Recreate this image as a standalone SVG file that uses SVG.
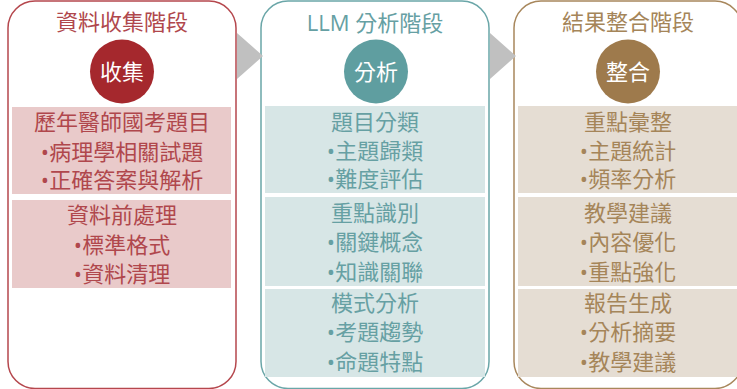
<svg xmlns="http://www.w3.org/2000/svg" width="737" height="389" viewBox="0 0 737 389">
<style>
text{font-family:"Open Sans","Noto Sans CJK TC","Noto Sans CJK SC",sans-serif;font-size:22px;text-anchor:middle}
.panel{fill:#ffffff;stroke-width:1.5}
.p1{stroke:#b5474d}.p2{stroke:#6aa6a8}.p3{stroke:#a8875c}
.t1{fill:#b0474c}.t2{fill:#66a0a3}.t3{fill:#a58559}
.b1{fill:#e9caca}.b2{fill:#d7e6e6}.b3{fill:#e5ddd3}
.ct{fill:#ffffff}
.arrow{fill:#c0c0c0}
</style>
<rect width="737" height="389" fill="#ffffff"/>
<g id="stage-collect">
<rect class="panel p1" x="8" y="1" width="228" height="387.5" rx="27"/>
<text class="t1" x="122" y="30">資料收集階段</text>
<circle cx="122" cy="71.5" r="32" fill="#a5282d"/>
<text class="ct" x="122" y="79.5">收集</text>
<rect class="b1" x="12" y="107" width="219" height="87"/>
<text class="t1" x="122" y="130">歷年醫師國考題目</text>
<text class="t1" x="122" y="160">•病理學相關試題</text>
<text class="t1" x="122" y="188">•正確答案與解析</text>
<rect class="b1" x="12" y="200" width="219" height="88"/>
<text class="t1" x="122" y="223">資料前處理</text>
<text class="t1" x="122" y="253">•標準格式</text>
<text class="t1" x="122" y="282">•資料清理</text>
</g>
<g id="stage-llm">
<rect class="panel p2" x="261" y="1" width="228" height="387.5" rx="27"/>
<text class="t2" x="375" y="30.5">LLM 分析階段</text>
<circle cx="376" cy="71.5" r="32" fill="#5f9ea0"/>
<text class="ct" x="376" y="79.5">分析</text>
<rect class="b2" x="265" y="106" width="220" height="87"/>
<text class="t2" x="375" y="129.5">題目分類</text>
<text class="t2" x="375" y="159">•主題歸類</text>
<text class="t2" x="375" y="187">•難度評估</text>
<rect class="b2" x="265" y="197" width="220" height="89"/>
<text class="t2" x="375" y="220.5">重點識別</text>
<text class="t2" x="375" y="250">•關鍵概念</text>
<text class="t2" x="375" y="279.5">•知識關聯</text>
<rect class="b2" x="265" y="289" width="220" height="88"/>
<text class="t2" x="375" y="311">模式分析</text>
<text class="t2" x="375" y="340">•考題趨勢</text>
<text class="t2" x="375" y="370">•命題特點</text>
</g>
<g id="stage-integrate">
<rect class="panel p3" x="514" y="1" width="228" height="387.5" rx="27"/>
<text class="t3" x="628" y="30">結果整合階段</text>
<circle cx="628" cy="71.5" r="32" fill="#9e7a4c"/>
<text class="ct" x="628" y="79.5">整合</text>
<rect class="b3" x="518" y="106" width="220" height="87"/>
<text class="t3" x="628" y="129.5">重點彙整</text>
<text class="t3" x="628" y="159">•主題統計</text>
<text class="t3" x="628" y="187">•頻率分析</text>
<rect class="b3" x="518" y="197" width="220" height="89"/>
<text class="t3" x="628" y="220.5">教學建議</text>
<text class="t3" x="628" y="250">•內容優化</text>
<text class="t3" x="628" y="279.5">•重點強化</text>
<rect class="b3" x="518" y="289" width="220" height="88"/>
<text class="t3" x="628" y="311">報告生成</text>
<text class="t3" x="628" y="340">•分析摘要</text>
<text class="t3" x="628" y="370">•教學建議</text>
</g>
<g id="connectors">
<polygon class="arrow" points="237,33 263,56 237,79"/>
<polygon class="arrow" points="490,33 516,56 490,79"/>
</g>
</svg>
